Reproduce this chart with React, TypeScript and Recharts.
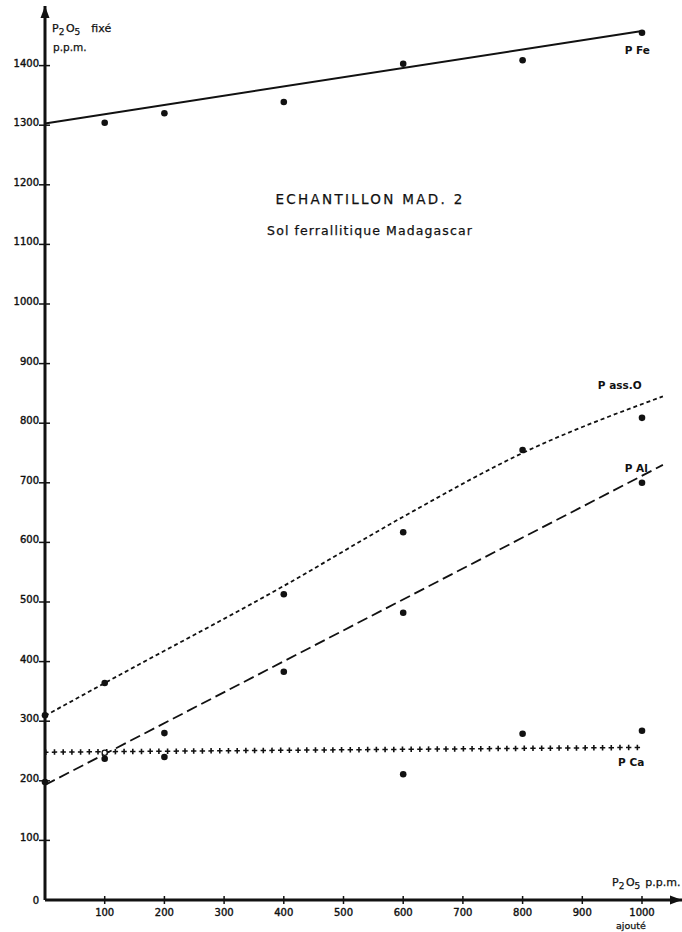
import {
  ComposedChart,
  Line,
  ReferenceDot,
  Scatter,
  XAxis,
  YAxis,
} from "recharts";

// P2O5 ajouté (ppm) -> P2O5 fixé (ppm), sol ferrallitique MAD. 2
const xTicks = [100, 200, 300, 400, 500, 600, 700, 800, 900, 1000];
const yTicks = [0, 100, 200, 300, 400, 500, 600, 700, 800, 900, 1000, 1100, 1200, 1300, 1400];

// measured points
const feMeasured = [
  { x: 100, y: 1304 },
  { x: 200, y: 1320 },
  { x: 400, y: 1339 },
  { x: 600, y: 1403 },
  { x: 800, y: 1409 },
  { x: 1000, y: 1455 },
];
const assOMeasured = [
  { x: 0, y: 310 },
  { x: 100, y: 364 },
  { x: 400, y: 513 },
  { x: 600, y: 617 },
  { x: 800, y: 755 },
  { x: 1000, y: 809 },
];
const alMeasured = [
  { x: 0, y: 198 },
  { x: 100, y: 237 },
  { x: 200, y: 280 },
  { x: 400, y: 383 },
  { x: 600, y: 482 },
  { x: 1000, y: 700 },
];
const caMeasured = [
  { x: 200, y: 240 },
  { x: 600, y: 211 },
  { x: 800, y: 279 },
  { x: 1000, y: 284 },
];
const caOpen = [{ x: 100, y: 247 }];

// hand-drawn trend lines
const feFit = [
  { x: 0, y: 1303 },
  { x: 1000, y: 1458 },
];
const assOFit = [
  { x: 0, y: 309 },
  { x: 100, y: 364 },
  { x: 400, y: 527 },
  { x: 600, y: 643 },
  { x: 800, y: 750 },
  { x: 1035, y: 845 },
];
const alFit = [
  { x: 0, y: 193 },
  { x: 1035, y: 730 },
];
const caFit = [
  { x: 0, y: 248 },
  { x: 1000, y: 256 },
];

// series names, placed in data units
const seriesLabels = [
  { x: 971, y: 1419, text: "P Fe" },
  { x: 926, y: 857, text: "P ass.O" },
  { x: 971, y: 718, text: "P Al" },
  { x: 960, y: 225, text: "P Ca" },
];

const FONT = "'DejaVu Sans', sans-serif";
const INK = "#111";

const dot = (props: any) => (
  <circle cx={props.cx} cy={props.cy} r={3.3} fill={INK} />
);
const openDot = (props: any) => (
  <circle cx={props.cx} cy={props.cy} r={2.6} fill="#fff" stroke={INK} strokeWidth={1.3} />
);

const YTick = ({ x, y, payload }: any) => (
  <g>
    {payload.value !== 0 && (
      <line x1={x - 6} x2={x + 5} y1={y} y2={y} stroke={INK} strokeWidth={1.5} />
    )}
    <text
      x={x - 6}
      y={payload.value === 0 ? y + 4 : y + 1}
      textAnchor="end"
      fontFamily={FONT}
      fontSize={10}
      fill={INK}
      stroke={INK}
      strokeWidth={0.4}
    >
      {payload.value}
    </text>
  </g>
);

const XTick = ({ x, y, payload }: any) => (
  <g>
    <line x1={x} x2={x} y1={y - 4} y2={y + 4} stroke={INK} strokeWidth={1.5} />
    <text
      x={x}
      y={y + 16}
      textAnchor="middle"
      fontFamily={FONT}
      fontSize={10}
      fill={INK}
      stroke={INK}
      strokeWidth={0.4}
    >
      {payload.value}
    </text>
  </g>
);

const App = () => {
  return (
    <div
      style={{
        position: "absolute",
        left: 0,
        top: 0,
        width: 682,
        height: 932,
        background: "#fff",
      }}
    >
      <ComposedChart
        width={682}
        height={932}
        margin={{ top: 6, right: 0, bottom: 0, left: 0 }}
      >
        <XAxis
          type="number"
          dataKey="x"
          domain={[0, 1067]}
          ticks={xTicks}
          interval={0}
          height={32}
          tickSize={0}
          tickMargin={0}
          tickLine={false}
          tick={<XTick />}
          axisLine={{ stroke: INK, strokeWidth: 3 }}
        />
        <YAxis
          type="number"
          dataKey="y"
          domain={[0, 1500]}
          ticks={yTicks}
          interval={0}
          width={45}
          tickSize={0}
          tickMargin={0}
          tickLine={false}
          tick={<YTick />}
          axisLine={{ stroke: INK, strokeWidth: 3 }}
        />

        {/* axis arrowheads */}
        <ReferenceDot
          x={1067}
          y={0}
          ifOverflow="visible"
          shape={(p: any) => (
            <polygon
              points={`${p.cx},${p.cy} ${p.cx - 12},${p.cy - 4.5} ${p.cx - 12},${p.cy + 4.5}`}
              fill={INK}
            />
          )}
        />
        <ReferenceDot
          x={0}
          y={1500}
          ifOverflow="visible"
          shape={(p: any) => (
            <polygon
              points={`${p.cx},${p.cy} ${p.cx - 4.5},${p.cy + 12} ${p.cx + 4.5},${p.cy + 12}`}
              fill={INK}
            />
          )}
        />

        <Line
          data={feFit}
          dataKey="y"
          type="linear"
          stroke={INK}
          strokeWidth={2}
          dot={false}
          isAnimationActive={false}
        />
        <Line
          data={assOFit}
          dataKey="y"
          type="monotone"
          stroke={INK}
          strokeWidth={1.8}
          strokeDasharray="4 3"
          dot={false}
          isAnimationActive={false}
        />
        <Line
          data={alFit}
          dataKey="y"
          type="linear"
          stroke={INK}
          strokeWidth={1.8}
          strokeDasharray="11 5"
          dot={false}
          isAnimationActive={false}
        />
        {/* P Ca drawn as a row of "+" marks: short thick dashes + thin bars */}
        <Line
          data={caFit}
          dataKey="y"
          type="linear"
          stroke={INK}
          strokeWidth={5.5}
          strokeDasharray="1.6 7.1"
          dot={false}
          isAnimationActive={false}
        />
        <Line
          data={caFit}
          dataKey="y"
          type="linear"
          stroke={INK}
          strokeWidth={1.5}
          strokeDasharray="5.4 3.3"
          strokeDashoffset={1.9}
          dot={false}
          isAnimationActive={false}
        />

        <Scatter data={feMeasured} shape={dot} isAnimationActive={false} />
        <Scatter data={assOMeasured} shape={dot} isAnimationActive={false} />
        <Scatter data={alMeasured} shape={dot} isAnimationActive={false} />
        <Scatter data={caMeasured} shape={dot} isAnimationActive={false} />
        <Scatter data={caOpen} shape={openDot} isAnimationActive={false} />

        {seriesLabels.map((s) => (
          <ReferenceDot
            key={s.text}
            x={s.x}
            y={s.y}
            ifOverflow="visible"
            shape={(p: any) => (
              <text
                x={p.cx}
                y={p.cy}
                fontFamily={FONT}
                fontSize={10.5}
                fontWeight="bold"
                fill={INK}
              >
                {s.text}
              </text>
            )}
          />
        ))}
      </ComposedChart>

      {/* titles and axis captions */}
      <svg
        width={682}
        height={932}
        style={{ position: "absolute", left: 0, top: 0, pointerEvents: "none" }}
        fontFamily={FONT}
        fill={INK}
        stroke={INK}
        strokeWidth={0.25}
      >
        <text x={52} y={32} fontSize={11}>
          P<tspan fontSize={9} dy={3}>2</tspan>
          <tspan dy={-3} dx={1.5}>O</tspan>
          <tspan fontSize={9} dy={3}>5</tspan>
          <tspan dy={-3} dx={11}>fixé</tspan>
        </text>
        <text x={53} y={51} fontSize={10.5}>
          p.p.m.
        </text>

        <text x={612} y={886} fontSize={11}>
          P<tspan fontSize={9} dy={3}>2</tspan>
          <tspan dy={-3} dx={1.5}>O</tspan>
          <tspan fontSize={9} dy={3}>5</tspan>
          <tspan dy={-3} dx={5}>p.p.m.</tspan>
        </text>
        <text x={616} y={929} fontSize={9.5}>
          ajouté
        </text>

        <text x={370} y={204} fontSize={13.5} textAnchor="middle" letterSpacing={2.3}>
          ECHANTILLON MAD. 2
        </text>
        <text x={370} y={235} fontSize={12.5} textAnchor="middle" letterSpacing={1.1}>
          Sol ferrallitique  Madagascar
        </text>
      </svg>
    </div>
  );
};

export default App;
